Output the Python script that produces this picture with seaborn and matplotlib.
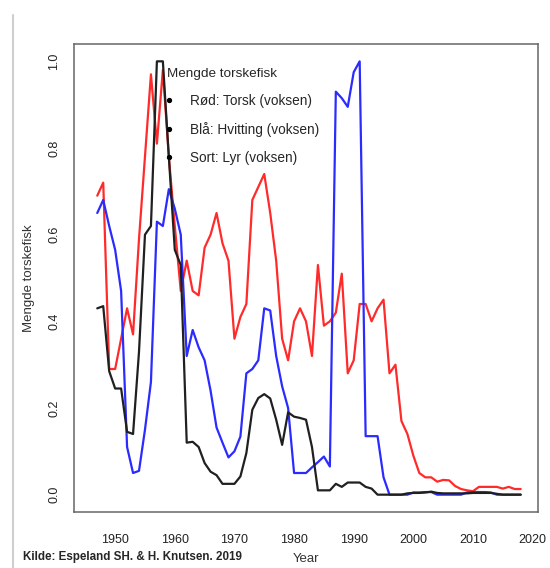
import numpy as np
import pandas as pd
import matplotlib
matplotlib.use('Agg')
import matplotlib.pyplot as plt
import seaborn as sns
from matplotlib.lines import Line2D

years = list(range(1947, 2019))

# Rød: Torsk (voksen)
torsk = [0.69, 0.72, 0.29, 0.29, 0.36, 0.43, 0.37, 0.59, 0.78, 0.97,
         0.81, 0.98, 0.78, 0.62, 0.47, 0.54, 0.47, 0.46, 0.57, 0.60,
         0.65, 0.58, 0.54, 0.36, 0.41, 0.44, 0.68, 0.71, 0.74, 0.65,
         0.54, 0.36, 0.31, 0.40, 0.43, 0.40, 0.32, 0.53, 0.39, 0.40,
         0.42, 0.51, 0.28, 0.31, 0.44, 0.44, 0.40, 0.43, 0.45, 0.28,
         0.30, 0.17, 0.14, 0.09, 0.05, 0.04, 0.04, 0.03, 0.034, 0.033,
         0.02, 0.013, 0.01, 0.008, 0.018, 0.018, 0.018, 0.018, 0.014, 0.018,
         0.013, 0.013]

# Blå: Hvitting (voksen)
hvitting = [0.65, 0.68, 0.62, 0.565, 0.47, 0.11, 0.05, 0.055, 0.15, 0.26,
            0.63, 0.62, 0.705, 0.66, 0.60, 0.32, 0.38, 0.34, 0.31, 0.24,
            0.155, 0.12, 0.086, 0.10, 0.134, 0.28, 0.29, 0.31, 0.43, 0.425,
            0.32, 0.25, 0.20, 0.05, 0.05, 0.05, 0.063, 0.075, 0.088, 0.065,
            0.93, 0.915, 0.895, 0.975, 1.0, 0.135, 0.135, 0.135, 0.04, 0.0,
            0.0, 0.0, 0.0, 0.005, 0.005, 0.006, 0.006, 0.0, 0.0, 0.0,
            0.0, 0.0, 0.005, 0.006, 0.006, 0.006, 0.005, 0.0, 0.0, 0.0,
            0.0, 0.0]

# Sort: Lyr (voksen)
lyr = [0.43, 0.435, 0.285, 0.245, 0.245, 0.145, 0.14, 0.33, 0.60, 0.62,
       1.0, 1.0, 0.78, 0.565, 0.53, 0.12, 0.122, 0.11, 0.073, 0.053,
       0.045, 0.025, 0.025, 0.025, 0.042, 0.096, 0.196, 0.223, 0.232, 0.222,
       0.173, 0.115, 0.19, 0.18, 0.177, 0.173, 0.11, 0.01, 0.01, 0.01,
       0.025, 0.018, 0.028, 0.028, 0.028, 0.018, 0.014, 0.0, 0.0, 0.0,
       0.0, 0.0, 0.003, 0.004, 0.004, 0.005, 0.007, 0.004, 0.003, 0.003,
       0.003, 0.003, 0.003, 0.004, 0.004, 0.004, 0.004, 0.002, 0.0, 0.0,
       0.0, 0.0]

labels = ['Rød: Torsk (voksen)', 'Blå: Hvitting (voksen)', 'Sort: Lyr (voksen)']
xticks = [1950, 1960, 1970, 1980, 1990, 2000, 2010, 2020]
yticks = [0.0, 0.2, 0.4, 0.6, 0.8, 1.0]

df = pd.DataFrame({'Year': years, 'torsk': torsk, 'hvitting': hvitting, 'lyr': lyr})

sns.set_style('white')
plt.rcParams['font.family'] = ['Liberation Sans', 'DejaVu Sans']

W, H = 550, 568
fig = plt.figure(figsize=(W / 100, H / 100), dpi=100)
ax = fig.add_axes([74 / W, 1 - 512 / H, 464 / W, 468 / H])

sns.lineplot(data=df, x='Year', y='torsk', color='#ff2b2b', lw=1.6, ax=ax)
sns.lineplot(data=df, x='Year', y='hvitting', color='#2b2bff', lw=1.6, ax=ax)
sns.lineplot(data=df, x='Year', y='lyr', color='#202020', lw=1.6, ax=ax)

ax.set_xlim(1943.1, 2020.9)
ax.set_ylim(-0.04, 1.04)
ax.set_xticks(xticks)
ax.set_yticks(yticks)
ax.set_yticklabels(['%.1f' % v for v in yticks], rotation=90, va='center')
ax.tick_params(direction='out', length=5, width=0.9, color='#444444',
               labelsize=9, labelcolor='#222222', pad=5)
ax.tick_params(axis='x', pad=11)

for s in ax.spines.values():
    s.set_color('#666666')
    s.set_linewidth(1.1)

# "Year" sits right at the bottom edge, as in the source
ax.set_xlabel('Year', fontsize=9.5, color='#333333', va='top')
ax.xaxis.set_label_coords(0.5, -0.088)
ax.set_ylabel('Mengde torskefisk', fontsize=9.5, color='#333333', va='center')
ax.yaxis.set_label_coords(-0.097, 0.5)

handles = [Line2D([0], [0], marker='o', ms=2.8, ls='none', color='black') for _ in labels]
leg = ax.legend(handles, labels, title='Mengde torskefisk', loc='upper left',
                bbox_to_anchor=(0.189, 0.96), borderaxespad=0, frameon=False,
                fontsize=9.8, title_fontsize=9.7, alignment='left',
                handlelength=0.3, handletextpad=1.36, labelspacing=1.02)

fig.text(23 / W, 1 - 557 / H, 'Kilde: Espeland SH. & H. Knutsen. 2019',
         fontsize=8.4, fontweight='bold', va='center', ha='left')

fig.add_artist(Line2D([13 / W, 13 / W], [0, 1 - 15 / H], transform=fig.transFigure,
                      color='#cfcfcf', lw=1.5))

fig.savefig('out.png', dpi=100)
